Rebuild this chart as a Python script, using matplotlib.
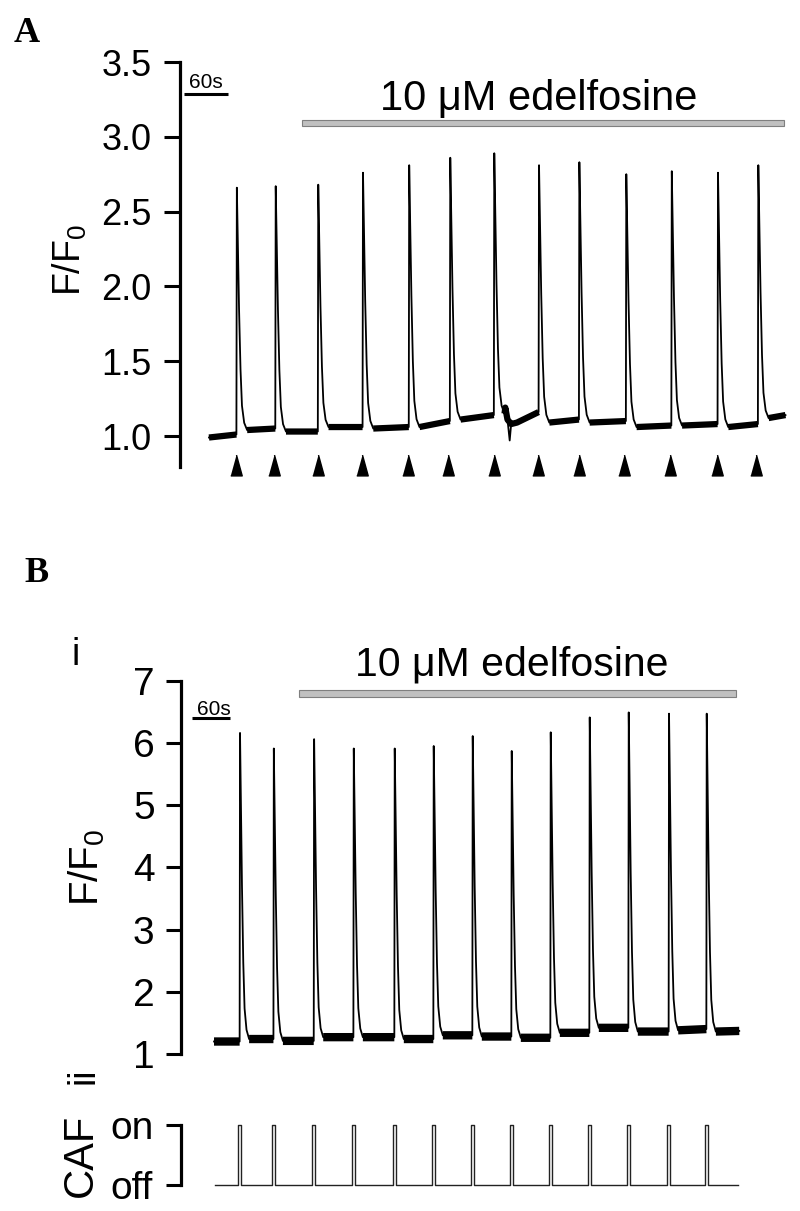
import numpy as np
import matplotlib
matplotlib.use('Agg')
import matplotlib.pyplot as plt
from matplotlib.patches import Rectangle

plt.rcParams['font.family'] = ['Liberation Sans', 'DejaVu Sans']
plt.rcParams['mathtext.fontset'] = 'custom'
plt.rcParams['mathtext.rm'] = 'Liberation Sans'
plt.rcParams['mathtext.default'] = 'regular'

# ---- panel A data (time in s, F/F0) ----
a_spike_t = [38, 91, 149, 210, 273, 329, 389, 450, 505, 569, 631, 694, 749]
a_peak = [2.66, 2.67, 2.68, 2.76, 2.81, 2.86, 2.89, 2.81, 2.83, 2.75, 2.77, 2.76, 2.81]
a_base_before = [1.01, 1.05, 1.03, 1.06, 1.06, 1.10, 1.14, 1.16, 1.11, 1.10, 1.07, 1.08, 1.08]
a_base_after = [1.04, 1.03, 1.06, 1.05, 1.06, 1.11, 1.15, 1.09, 1.09, 1.06, 1.07, 1.06, 1.12]
a_start = [0, 0.99]
a_end = [786, 1.14]
a_extra_t = [404, 407, 412, 420]
a_extra_v = [1.19, 1.11, 1.08, 1.09]
a_glitch = [410, 0.97]
a_stim_t = [37, 89, 148, 209, 272, 326, 388, 448, 504, 566, 629, 692, 746]
a_drug = [127, 784]
a_scale = [-34, 26]

# ---- panel B data ----
b_spike_t = [40, 92, 154, 215, 278, 338, 398, 458, 518, 578, 638, 700, 758]
b_peak = [6.16, 5.91, 6.06, 5.91, 5.91, 5.95, 6.11, 5.87, 6.17, 6.41, 6.49, 6.47, 6.47]
b_base_before = [1.20, 1.24, 1.21, 1.27, 1.27, 1.24, 1.30, 1.28, 1.26, 1.34, 1.42, 1.36, 1.40]
b_base_after = [1.24, 1.21, 1.27, 1.27, 1.24, 1.30, 1.28, 1.26, 1.34, 1.42, 1.36, 1.38, 1.36]
b_start = [0, 1.20]
b_end = [808, 1.37]
b_drug = [131, 803]
b_scale = [-34, 25]

# caffeine applications
caf_on_t = [37, 89, 151, 212, 275, 335, 395, 455, 515, 575, 635, 697, 755]
caf_dur = 5
caf_range = [2, 806]

# shape of a transient decay (s after peak, fraction of amplitude)
decay_dt = [1.5, 3, 5, 7, 10, 14]
decay_frac = [0.75, 0.5, 0.25, 0.1, 0.03, 0.0]

W, H = 800, 1211


def px(x, y):
    return x / W, 1 - y / H


def build_trace(start, end, spike_t, peak, before, after, extra_t=(), extra_v=(), glitch=None):
    # points as (t, value, is_baseline)
    pts = [(start[0], start[1], True), (end[0], end[1], True)]
    for i, ts in enumerate(spike_t):
        pts.append((ts - 0.6, before[i], True))
        pts.append((ts, peak[i], False))
        for dt, fr in zip(decay_dt, decay_frac):
            pts.append((ts + dt, after[i] + (peak[i] - after[i]) * fr, fr == 0))
    for t, v in zip(extra_t, extra_v):
        pts.append((t, v, True))
    pts.sort(key=lambda p: p[0])
    t = np.array([p[0] for p in pts])
    v = np.array([p[1] for p in pts])
    band = np.array([p[1] if p[2] else np.nan for p in pts])
    if glitch is not None:
        k = np.searchsorted(t, glitch[0])
        t = np.insert(t, k, glitch[0])
        v = np.insert(v, k, glitch[1])
        band = np.insert(band, k, np.interp(glitch[0], t[[k - 1, k + 1]], v[[k - 1, k + 1]]))
    return t, v, band


def style_axis(ax, bounds, lw=2.3):
    for s in ['top', 'right', 'bottom']:
        ax.spines[s].set_visible(False)
    ax.spines['left'].set_linewidth(lw)
    ax.spines['left'].set_bounds(*bounds)
    ax.set_xticks([])
    ax.patch.set_alpha(0)


fig = plt.figure(figsize=(8, 12.11), dpi=100)

# ---------------- panel A ----------------
axA = fig.add_axes([180 / W, 1 - 480.9 / H, 615 / W, 418.9 / H])
axA.set_xlim(-39.5, 799)
axA.set_ylim(0.7, 3.5)
style_axis(axA, (0.79, 3.5))
axA.set_yticks([1.0, 1.5, 2.0, 2.5, 3.0, 3.5])
axA.set_yticklabels(['%.1f' % v for v in [1.0, 1.5, 2.0, 2.5, 3.0, 3.5]])
axA.tick_params(axis='y', length=11.5, width=2.2, pad=9, labelsize=26)

t, v, band = build_trace(a_start, a_end, a_spike_t, a_peak, a_base_before, a_base_after,
                         a_extra_t, a_extra_v, a_glitch)
axA.plot(t, band, color='k', lw=4.5, solid_capstyle='butt')
axA.plot(t, v, color='k', lw=1.3)

tri = [(-0.55, -1), (0.55, -1), (0, 1)]
axA.plot(a_stim_t, [0.803] * len(a_stim_t), ls='none', marker=tri, ms=15, color='k', clip_on=False)

axA.add_patch(Rectangle((a_drug[0], 3.072), a_drug[1] - a_drug[0], 0.04,
                        facecolor='#c0c0c0', edgecolor='#7f7f7f', lw=0.8, clip_on=False))
axA.text(450, 3.18, '10 μM edelfosine', ha='center', va='baseline', fontsize=30)
axA.plot(a_scale, [3.286, 3.286], color='k', lw=2.2, solid_capstyle='butt')
axA.text(-4.4, 3.324, '60s', ha='center', va='baseline', fontsize=15)

# ---------------- panel B (i) ----------------
axB = fig.add_axes([181 / W, 1 - 1066.4 / H, 614 / W, 410.6 / H])
axB.set_xlim(-50.8, 893.8)
axB.set_ylim(0.8, 7.4)
style_axis(axB, (1, 7))
axB.set_yticks([1, 2, 3, 4, 5, 6, 7])
axB.tick_params(axis='y', length=11, width=2.2, pad=8, labelsize=28)

t, v, band = build_trace(b_start, b_end, b_spike_t, b_peak, b_base_before, b_base_after)
axB.plot(t, band, color='k', lw=6, solid_capstyle='butt')
axB.plot(t, v, color='k', lw=1.3)

axB.add_patch(Rectangle((b_drug[0], 6.74), b_drug[1] - b_drug[0], 0.11,
                        facecolor='#c0c0c0', edgecolor='#7f7f7f', lw=0.8, clip_on=False))
axB.text(458, 7.09, '10 μM edelfosine', ha='center', va='baseline', fontsize=29.5)
axB.plot(b_scale, [6.40, 6.40], color='k', lw=2.2, solid_capstyle='butt')
axB.text(0, 6.45, '60s', ha='center', va='baseline', fontsize=15)

# ---------------- panel B (ii) caffeine ----------------
axC = fig.add_axes([181 / W, 1 - 1191 / H, 614 / W, 72 / H])
axC.set_xlim(-50.8, 893.8)
axC.set_ylim(-0.1, 1.1)
style_axis(axC, (0, 1))
axC.set_yticks([0, 1])
axC.set_yticklabels(['off', 'on'])
axC.tick_params(axis='y', length=11, width=2.2, pad=9, labelsize=28)

ct = [caf_range[0]]
cv = [0]
for t0 in caf_on_t:
    ct += [t0, t0, t0 + caf_dur, t0 + caf_dur]
    cv += [0, 1, 1, 0]
ct.append(caf_range[1])
cv.append(0)
axC.plot(ct, cv, color='#222222', lw=1.0)

# ---------------- labels ----------------
fig.text(*px(14, 42), 'A', family='Liberation Serif', weight='bold', fontsize=26, va='baseline')
fig.text(*px(24, 582), 'B', family='Liberation Serif', weight='bold', fontsize=26, va='baseline')
fig.text(*px(70, 260), 'F/F$_0$', rotation=90, ha='center', va='center', fontsize=27)
fig.text(*px(87, 867), 'F/F$_0$', rotation=90, ha='center', va='center', fontsize=29)
fig.text(*px(81, 1155), 'CAF', rotation=90, ha='center', va='center', fontsize=30)
fig.text(*px(76, 665), 'i', ha='center', va='baseline', fontsize=27)
fig.text(*px(83.5, 1076), 'ii', rotation=90, ha='center', va='center', fontsize=27)

fig.savefig('out.png', dpi=100)
